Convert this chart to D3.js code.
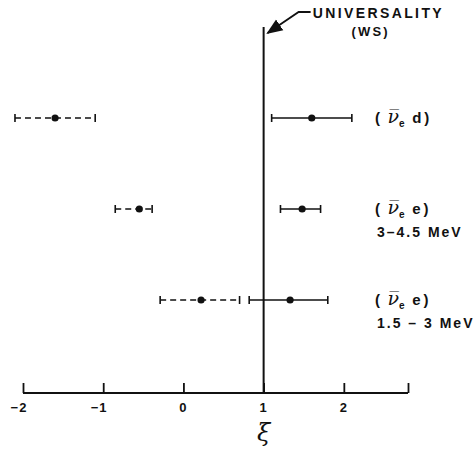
<!DOCTYPE html>
<html>
<head>
<meta charset="utf-8">
<script src="https://cdn.jsdelivr.net/npm/d3@7"></script>
<style>
  html, body { margin: 0; padding: 0; background: #fff; }
  svg { display: block; }
  .lbl { font-family: "Liberation Sans", Arial, sans-serif; font-weight: bold; fill: #111; }
</style>
</head>
<body>
<svg id="chart" width="474" height="452"></svg>
<script>
// Measurements of the parameter xi for each reaction
const rows = ["nubar_e d", "nubar_e e 3-4.5", "nubar_e e 1.5-3"];
const target = ["d", "e", "e"];
const energyRange = ["", "3\u20134.5 MeV", "1.5 \u2013 3 MeV"];
// Solution near xi = 1 (solid) and the mirror solution (dashed): value, lower and upper limits
const solidXi = [1.60, 1.48, 1.33];
const solidLo = [1.10, 1.21, 0.82];
const solidHi = [2.10, 1.71, 1.80];
const dashedXi = [-1.60, -0.55, 0.22];
const dashedLo = [-2.10, -0.85, -0.29];
const dashedHi = [-1.10, -0.39, 0.70];
const xTicks = [-2, -1, 0, 1, 2];
const xTickLabels = ["\u22122", "\u22121", "0", "1", "2"];
const universality = 1;

const svg = d3.select("#chart");
const x = d3.scaleLinear().domain([-2, 2.8]).range([23, 408]);
const y = d3.scalePoint().domain(rows).range([118, 300]);
const axisY = 393, plotTop = 27;
const ink = "#111";

// Bottom axis with upward ticks
const axis = d3.axisBottom(x).tickValues(xTicks.concat([2.8])).tickSize(-10).tickFormat("");
const gAxis = svg.append("g").attr("transform", `translate(0,${axisY})`).call(axis);
gAxis.select(".domain").attr("stroke", ink).attr("stroke-width", 1.8).attr("d", `M${x(-2)},0H${x(2.8)}`);
gAxis.selectAll(".tick line").attr("stroke", ink).attr("stroke-width", 1.8);

svg.append("g").selectAll("text").data(xTicks).join("text")
  .attr("class", "lbl")
  .attr("x", d => x(d) - (d < 0 ? 4 : 0))
  .attr("y", axisY + 19)
  .attr("text-anchor", "middle")
  .attr("font-size", 13).attr("letter-spacing", 1)
  .text((d, i) => xTickLabels[i]);

// Axis title
svg.append("text")
  .attr("x", x(1)).attr("y", axisY + 48)
  .attr("text-anchor", "middle")
  .attr("font-family", "DejaVu Serif, serif")
  .attr("font-style", "italic")
  .attr("font-size", 24)
  .attr("fill", ink)
  .text("\u03BE");

// Universality reference line
svg.append("line")
  .attr("x1", x(universality)).attr("x2", x(universality))
  .attr("y1", plotTop).attr("y2", axisY)
  .attr("stroke", ink).attr("stroke-width", 2);

// Annotation with arrow
const defs = svg.append("defs");
defs.append("marker").attr("id", "arrow")
  .attr("viewBox", "0 0 10 10").attr("refX", 9).attr("refY", 5)
  .attr("markerWidth", 9).attr("markerHeight", 9).attr("orient", "auto")
  .append("path").attr("d", "M0,1L10,5L0,9Z").attr("fill", ink);

const ax = x(universality);
svg.append("path")
  .attr("d", `M${ax + 47},12H${ax + 35}L${ax + 4},33`)
  .attr("fill", "none").attr("stroke", ink).attr("stroke-width", 1.8)
  .attr("marker-end", "url(#arrow)");
svg.append("text").attr("class", "lbl")
  .attr("x", ax + 49).attr("y", 18)
  .attr("font-size", 14).attr("letter-spacing", 2.4)
  .text("UNIVERSALITY");
svg.append("text").attr("class", "lbl")
  .attr("x", ax + 107).attr("y", 36)
  .attr("text-anchor", "middle")
  .attr("font-size", 13).attr("letter-spacing", 2.2)
  .text("(WS)");

// Error bars
function errorBars(xs, los, his, dashed) {
  const g = svg.append("g");
  rows.forEach((r, i) => {
    const cy = y(r), lo = x(los[i]), hi = x(his[i]);
    g.append("line").attr("x1", lo).attr("x2", hi).attr("y1", cy).attr("y2", cy)
      .attr("stroke", ink).attr("stroke-width", 1.6)
      .attr("stroke-dasharray", dashed ? "6,4" : null);
    [lo, hi].forEach(cx => g.append("line")
      .attr("x1", cx).attr("x2", cx).attr("y1", cy - 4).attr("y2", cy + 4)
      .attr("stroke", ink).attr("stroke-width", 1.6));
    g.append("circle").attr("cx", x(xs[i])).attr("cy", cy).attr("r", 3.6).attr("fill", ink);
  });
}
errorBars(solidXi, solidLo, solidHi, false);
errorBars(dashedXi, dashedLo, dashedHi, true);

// Reaction labels
rows.forEach((r, i) => {
  const cy = y(r);
  const t = svg.append("text").attr("class", "lbl")
    .attr("x", 375).attr("y", cy + 5).attr("font-size", 15);
  t.append("tspan").text("(\u2002");
  t.append("tspan").attr("font-family", "DejaVu Serif, serif").attr("font-style", "italic")
    .attr("font-weight", "normal").attr("font-size", 19).text("\u03BD\u0305");
  t.append("tspan").attr("font-size", 10).attr("dy", 4).text("e");
  t.append("tspan").attr("dy", -4).text("\u2002" + target[i] + "\u2009)");
  if (energyRange[i]) {
    svg.append("text").attr("class", "lbl")
      .attr("x", 377).attr("y", cy + 28)
      .attr("font-size", 14).attr("letter-spacing", 2)
      .text(energyRange[i]);
  }
});
</script>
</body>
</html>
